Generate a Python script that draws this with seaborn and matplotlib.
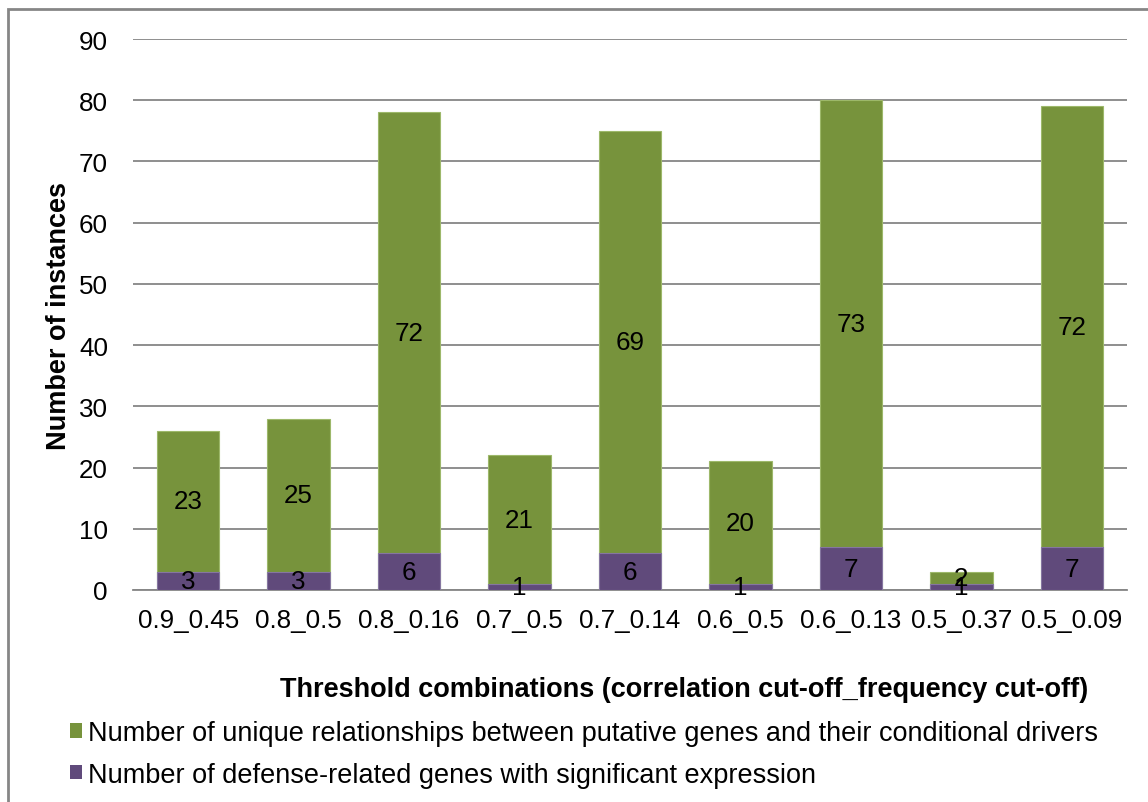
import matplotlib
matplotlib.use("Agg")
import matplotlib.pyplot as plt
from matplotlib.patches import Rectangle, Patch
import seaborn as sns
import pandas as pd

# Threshold combinations (correlation cut-off_frequency cut-off)
categories = ["0.9_0.45", "0.8_0.5", "0.8_0.16", "0.7_0.5", "0.7_0.14",
              "0.6_0.5", "0.6_0.13", "0.5_0.37", "0.5_0.09"]
defense_genes = [3, 3, 6, 1, 6, 1, 7, 1, 7]
relationships = [23, 25, 72, 21, 69, 20, 73, 2, 72]

series_names = [
    "Number of unique relationships between putative genes and their conditional drivers",
    "Number of defense-related genes with significant expression",
]

GREEN = "#77933C"
PURPLE = "#604A7B"
GRID = "#868686"
FS = 19.5
TICK_FS = 18.7

sns.set_theme(style="white")
plt.rcParams["font.family"] = ["Liberation Sans", "DejaVu Sans"]
plt.rcParams["text.color"] = "black"
plt.rcParams["axes.labelcolor"] = "black"

df = pd.DataFrame({
    "combo": categories,
    "defense": defense_genes,
    "relations": relationships,
})
df["total"] = df["defense"] + df["relations"]

W, H = 1148, 803
fig = plt.figure(figsize=(W / 100, H / 100), dpi=100)
ax = fig.add_axes([133 / W, 1 - 591 / H, (1127 - 133) / W, (591 - 40) / H])

bar_w = 0.565
# Stacked bars: full height in green, defense part overlaid in purple
sns.barplot(data=df, x="combo", y="total", color=GREEN, width=bar_w,
            saturation=1, edgecolor="#9db86a", linewidth=0.8, ax=ax, zorder=3)
sns.barplot(data=df, x="combo", y="defense", color=PURPLE, width=bar_w,
            saturation=1, edgecolor="#8576a0", linewidth=0.8, ax=ax, zorder=4)

# Segment value labels
for i, (d, r) in enumerate(zip(defense_genes, relationships)):
    ax.text(i, d + r / 2, str(r), ha="center", va="center", fontsize=TICK_FS,
            color="black", zorder=6)
    ax.text(i, d / 2, str(d), ha="center", va="center", fontsize=TICK_FS,
            color="black", zorder=6)

ax.set_xlim(-0.5, len(categories) - 0.5)
ax.set_ylim(0, 90)
ax.set_yticks(range(0, 91, 10))
ax.yaxis.grid(True, color=GRID, linewidth=1.3, zorder=0)
ax.set_axisbelow(True)
for side in ["left", "right", "top"]:
    ax.spines[side].set_visible(False)
ax.spines["bottom"].set_color(GRID)
ax.spines["bottom"].set_linewidth(1.3)
ax.tick_params(axis="both", length=0, labelsize=TICK_FS, colors="black")
ax.tick_params(axis="y", pad=18)
ax.tick_params(axis="x", pad=13)
ax.set_xlabel("")
ax.set_ylabel("Number of instances", fontsize=FS, fontweight="bold",
              labelpad=5, color="black")

fig.text(684 / W, 1 - 690 / H,
         "Threshold combinations (correlation cut-off_frequency cut-off)",
         ha="center", va="center", fontsize=FS, fontweight="bold",
         color="black")

handles = [Patch(facecolor=GREEN, edgecolor="none"),
           Patch(facecolor=PURPLE, edgecolor="none")]
fig.legend(handles, series_names, loc="upper left",
           bbox_to_anchor=(70 / W, 1 - 721 / H), frameon=False, fontsize=FS,
           handlelength=0.45, handleheight=0.45, handletextpad=0.2,
           labelspacing=0.58, borderaxespad=0, borderpad=0,
           labelcolor="black")

# Outer chart frame
fig.add_artist(Rectangle((8 / W, -0.2), 2, 1.2 - 10 / H,
                         transform=fig.transFigure, fill=False,
                         edgecolor=GRID, linewidth=2))

fig.savefig("out.png", dpi=100)
